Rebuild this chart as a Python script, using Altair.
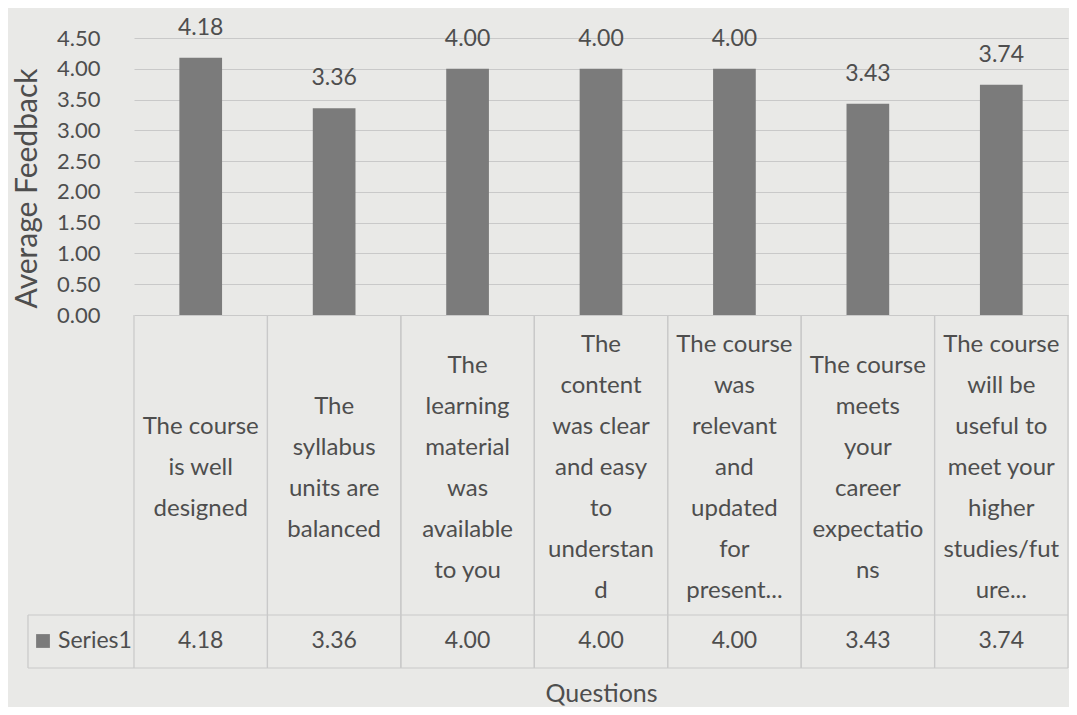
import altair as alt
import pandas as pd

# ---- data ----
questions = [
    "The course is well designed",
    "The syllabus units are balanced",
    "The learning material was available to you",
    "The content was clear and easy to understand",
    "The course was relevant and updated for present...",
    "The course meets your career expectations",
    "The course will be useful to meet your higher studies/future...",
]
label_lines = [
    ["The course", "is well", "designed"],
    ["The", "syllabus", "units are", "balanced"],
    ["The", "learning", "material", "was", "available", "to you"],
    ["The", "content", "was clear", "and easy", "to", "understan", "d"],
    ["The course", "was", "relevant", "and", "updated", "for", "present..."],
    ["The course", "meets", "your", "career", "expectatio", "ns"],
    ["The course", "will be", "useful to", "meet your", "higher", "studies/fut", "ure..."],
]
values = [4.18, 3.36, 4.00, 4.00, 4.00, 3.43, 3.74]
series_name = "Series1"
y_ticks = [0.0, 0.5, 1.0, 1.5, 2.0, 2.5, 3.0, 3.5, 4.0, 4.5]
x_title = "Questions"
y_title = "Average Feedback"

df = pd.DataFrame({
    "q": questions,
    "label": ["\n".join(l) for l in label_lines],
    "value": values,
})
legend_df = pd.DataFrame({"s": [series_name]})

# ---- style ----
W, H = 934, 277
LH = 41
BG = "#e9e9e7"
BAR = "#7b7b7b"
TEXT = "#4e4e4e"
GRID = "#c9c9c9"
LINE = "#c9c9c9"
FONT = "Lato"

xscale = alt.Scale(paddingInner=0, paddingOuter=0)

def xq(**kw):
    return alt.X("q:N", sort=questions, scale=xscale, **kw)

base = alt.Chart(df)

bars = base.mark_bar(width=alt.RelativeBandSize(band=0.32), color=BAR).encode(
    x=xq(axis=alt.Axis(labels=False, ticks=False, domain=False, grid=False,
                       title=x_title, titleFont=FONT, titleFontSize=25,
                       titleFontWeight="normal", titleColor=TEXT,
                       titlePadding=366)),
    y=alt.Y("value:Q", scale=alt.Scale(domain=[0, 4.5], nice=False),
            axis=alt.Axis(values=y_ticks, tickCount=len(y_ticks), format=".2f",
                          ticks=False, domain=False,
                          labelOverlap=False, labelFont=FONT, labelFontSize=22,
                          labelColor=TEXT, labelPadding=34, gridColor=GRID,
                          gridWidth=1.2, title=y_title, titleFont=FONT,
                          titleFontSize=30, titleFontWeight="normal",
                          titleColor=TEXT, titlePadding=14, titleY=150)),
)

bar_labels = base.mark_text(dy=-30, baseline="middle", font=FONT, fontSize=23,
                            color=TEXT).encode(
    x=xq(), y="value:Q", text=alt.Text("value:Q", format=".2f"))

# multi-line cell text, block centred vertically in the cell
table_labels = base.mark_text(
    lineBreak="\n", baseline="middle", font=FONT, fontSize=24, lineHeight=LH,
    color=TEXT,
    dy=alt.expr(f"-(length(split(datum.label, '\\n')) - 1) * {LH / 2}"),
).encode(x=xq(), y=alt.value(430), text="label:N")

table_values = base.mark_text(baseline="middle", font=FONT, fontSize=23,
                              color=TEXT).encode(
    x=xq(), y=alt.value(603), text=alt.Text("value:Q", format=".2f"))

vlines_left = base.mark_rule(color=LINE, strokeWidth=1.2).encode(
    x=xq(bandPosition=0), y=alt.value(277), y2=alt.value(630))
vlines_right = base.mark_rule(color=LINE, strokeWidth=1.2).encode(
    x=xq(bandPosition=1), y=alt.value(277), y2=alt.value(630))

hline_mid = alt.Chart(legend_df).mark_rule(color=LINE, strokeWidth=1.2).encode(
    x=alt.value(-106), x2=alt.value(W), y=alt.value(577))
hline_bot = alt.Chart(legend_df).mark_rule(color=LINE, strokeWidth=1.2).encode(
    x=alt.value(-106), x2=alt.value(W), y=alt.value(630))
vline_leg = alt.Chart(legend_df).mark_rule(color=LINE, strokeWidth=1.2).encode(
    x=alt.value(-106), y=alt.value(577), y2=alt.value(630))

legend_sq = alt.Chart(legend_df).mark_square(size=190, color=BAR, opacity=1,
                                             filled=True).encode(
    x=alt.value(-91), y=alt.value(603))
legend_txt = alt.Chart(legend_df).mark_text(align="left", baseline="middle",
                                            font=FONT, fontSize=23,
                                            color=TEXT).encode(
    x=alt.value(-76), y=alt.value(603), text="s:N")

chart = alt.layer(
    bars, vlines_left, vlines_right, hline_mid, hline_bot, vline_leg,
    bar_labels, table_labels, table_values, legend_sq, legend_txt,
).properties(
    width=W, height=H,
    padding={"left": 126, "top": 30, "right": 1, "bottom": 392},
    autosize=alt.AutoSizeParams(type="none"),
    background=BG,
).configure_view(stroke=None)

chart.save("out.html", embed_options={"renderer": "svg", "actions": False})
